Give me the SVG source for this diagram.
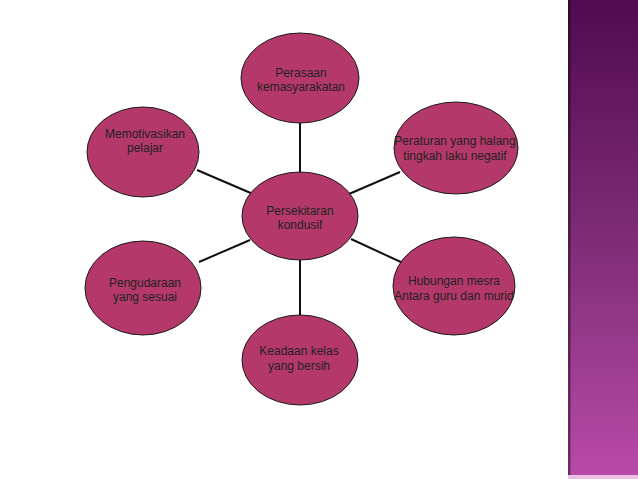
<svg xmlns="http://www.w3.org/2000/svg" width="638" height="479" viewBox="0 0 638 479">
<defs>
<linearGradient id="bar" x1="0" y1="0" x2="0" y2="1">
<stop offset="0" stop-color="#500b4e"/>
<stop offset="0.5" stop-color="#7e2c76"/>
<stop offset="1" stop-color="#b84aa8"/>
</linearGradient>
<linearGradient id="edge" x1="0" y1="0" x2="0" y2="1">
<stop offset="0" stop-color="#2e0a2c"/>
<stop offset="1" stop-color="#6a2d62"/>
</linearGradient>
</defs>
<style>
.node ellipse{fill:#b4396a;stroke:#1a1a1a;stroke-width:1}
.node text{font-family:"Liberation Sans",Arial,sans-serif;font-size:12px;fill:#222;text-anchor:middle}
#connectors line{stroke:#111;stroke-width:2}
</style>
<rect x="0" y="0" width="638" height="479" fill="#ffffff"/>
<rect x="568" y="0" width="70" height="475" fill="url(#bar)"/>
<rect x="568" y="475" width="70" height="4" fill="#ecc0e4"/>
<rect x="568" y="0" width="2.5" height="475" fill="url(#edge)"/>
<g id="connectors">
<line x1="300" y1="123" x2="300" y2="173"/>
<line x1="300" y1="260" x2="300" y2="315"/>
<line x1="197" y1="170" x2="253" y2="194"/>
<line x1="400" y1="172" x2="349" y2="194"/>
<line x1="199" y1="262" x2="250" y2="240"/>
<line x1="351" y1="239" x2="403" y2="263"/>
</g>
<g id="n-top" class="node">
<ellipse cx="300" cy="78" rx="59" ry="45"/>
<text x="301" y="77">Perasaan</text>
<text x="301" y="91">kemasyarakatan</text>
</g>
<g id="n-topright" class="node">
<ellipse cx="456" cy="148" rx="62" ry="46"/>
<text x="455" y="145">Peraturan yang halang</text>
<text x="455" y="160">tingkah laku negatif</text>
</g>
<g id="n-topleft" class="node">
<ellipse cx="143" cy="152" rx="56" ry="45"/>
<text x="145" y="138">Memotivasikan</text>
<text x="145" y="152">pelajar</text>
</g>
<g id="n-center" class="node">
<ellipse cx="300" cy="216" rx="58" ry="44"/>
<text x="300" y="215">Persekitaran</text>
<text x="300" y="229">kondusif</text>
</g>
<g id="n-bottomleft" class="node">
<ellipse cx="143" cy="288" rx="58" ry="47"/>
<text x="145" y="287">Pengudaraan</text>
<text x="145" y="301">yang sesuai</text>
</g>
<g id="n-bottomright" class="node">
<ellipse cx="454" cy="286" rx="61" ry="49"/>
<text x="454" y="285">Hubungan mesra</text>
<text x="454" y="300">Antara guru dan murid</text>
</g>
<g id="n-bottom" class="node">
<ellipse cx="300" cy="360" rx="58" ry="45"/>
<text x="299" y="355">Keadaan kelas</text>
<text x="299" y="370">yang bersih</text>
</g>
</svg>
